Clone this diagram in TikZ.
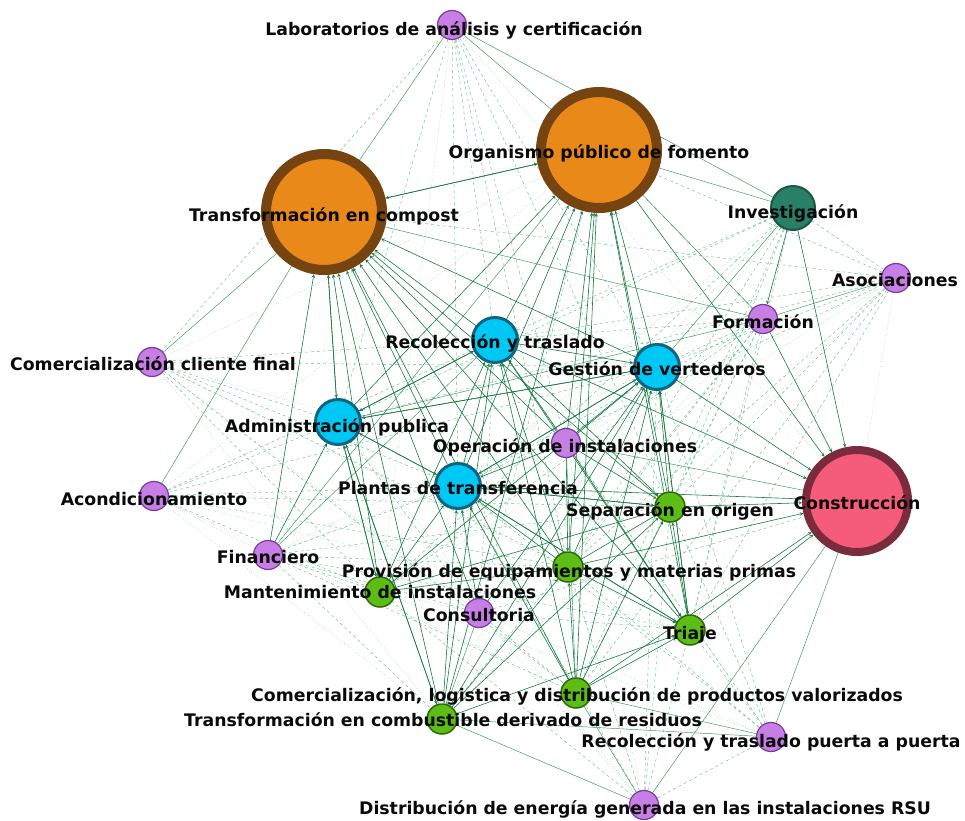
\documentclass[tikz,border=0pt]{standalone}
\usepackage{fontspec}
\setmainfont{DejaVu Sans}
\usetikzlibrary{arrows,backgrounds}
\definecolor{lilaF}{RGB}{199,127,230}
\definecolor{lilaD}{RGB}{120,60,150}
\definecolor{verdeF}{RGB}{92,190,20}
\definecolor{verdeD}{RGB}{45,105,10}
\definecolor{cianF}{RGB}{0,200,245}
\definecolor{cianD}{RGB}{15,100,128}
\definecolor{naranjaF}{RGB}{232,137,26}
\definecolor{naranjaD}{RGB}{118,68,16}
\definecolor{rosaF}{RGB}{245,92,122}
\definecolor{rosaD}{RGB}{122,43,62}
\definecolor{tealF}{RGB}{42,128,102}
\definecolor{tealD}{RGB}{26,86,66}
\definecolor{verdeO}{RGB}{24,122,66}
\definecolor{verdeM}{RGB}{50,150,95}
\definecolor{verdeC}{RGB}{95,185,140}

\tikzset{
    actor/.style={circle, draw, inner sep=0pt},
    lila/.style={actor, fill=lilaF, draw=lilaD, line width=1.2pt, minimum size=29},
    verde/.style={actor, fill=verdeF, draw=verdeD, line width=1.5pt, minimum size=30},
    cian/.style={actor, fill=cianF, draw=cianD, line width=3pt, minimum size=45},
    teal/.style={actor, fill=tealF, draw=tealD, line width=2pt, minimum size=44},
    grande/.style={actor, fill=naranjaF, draw=naranjaD, line width=10pt, minimum size=116},
    rosa/.style={actor, fill=rosaF, draw=rosaD, line width=8pt, minimum size=102},
    txt/.style={font=\fontsize{17.3}{19}\selectfont\bfseries, text=black!96, inner sep=0pt},
    flujo/.style={->, >=stealth, draw=verdeO, line width=0.6pt},
    nexo/.style={draw=verdeM, line width=0.45pt},
    tenue/.style={draw=verdeC, line width=0.4pt, dashed},
    punteado/.style={draw=verdeC, line width=0.4pt, dotted}
}

\begin{document}
\begin{tikzpicture}[x=1pt, y=-1pt]
    \useasboundingbox (0,0) rectangle (965,820);

    \node[lila] (lab) at (452,25) {};
    \node[grande] (org) at (599,150) {};
    \node[grande] (comp) at (324,212) {};
    \node[teal] (inv) at (793,208) {};
    \node[lila] (asoc) at (896,278) {};
    \node[lila] (form) at (763,319) {};
    \node[lila] (comcf) at (152,362) {};
    \node[cian] (recol) at (495,340) {};
    \node[cian] (gest) at (657,367) {};
    \node[cian] (adm) at (338,422) {};
    \node[lila] (oper) at (566,443) {};
    \node[cian] (plant) at (458,486) {};
    \node[rosa] (cons) at (857,501) {};
    \node[lila] (acond) at (154,496) {};
    \node[verde] (sep) at (670,507) {};
    \node[lila] (fin) at (268,555) {};
    \node[verde] (prov) at (568,567) {};
    \node[verde] (mant) at (380,592) {};
    \node[lila] (consu) at (479,613) {};
    \node[verde] (tri) at (690,630) {};
    \node[verde] (comlog) at (576,693) {};
    \node[verde] (cdr) at (442,719) {};
    \node[lila] (pap) at (771,737) {};
    \node[lila] (dist) at (644,805) {};

    \begin{pgfonlayer}{background}
        \fill[white] (0,0) rectangle (965,820);
        \foreach \a/\b in {lab/plant, lab/recol, lab/gest, lab/adm, lab/oper, lab/sep, lab/prov, lab/comcf,
            asoc/org, asoc/inv, asoc/gest, asoc/recol, asoc/adm, asoc/plant, asoc/sep, asoc/prov, asoc/tri, asoc/comlog, asoc/comp,
            form/org, form/gest, form/recol, form/plant, form/sep, form/prov, form/tri, form/comlog, form/cdr, form/mant,
            comcf/adm, comcf/recol, comcf/plant, comcf/gest, comcf/prov, comcf/mant, comcf/comlog,
            acond/adm, acond/plant, acond/recol, acond/gest, acond/prov, acond/mant, acond/sep,
            fin/plant, fin/prov, fin/mant, fin/sep, fin/tri, fin/comlog, fin/cdr, fin/consu,
            pap/sep, pap/tri, pap/prov, pap/plant, pap/gest, pap/recol,
            dist/tri, dist/sep, dist/prov, dist/plant, dist/gest, dist/mant, dist/pap,
            consu/org, consu/recol, consu/adm, consu/tri, consu/comlog, consu/cons,
            inv/recol, inv/adm, inv/sep, inv/prov, inv/tri, inv/comlog, inv/mant}
            \draw[tenue] (\a) -- (\b);
        \foreach \a/\b in {lab/cons, lab/mant, asoc/cons, asoc/mant, asoc/cdr, asoc/oper, form/consu, form/oper,
            comcf/org, comcf/sep, comcf/tri, comcf/cdr, comcf/consu, acond/org, acond/tri, acond/comlog, acond/cdr, acond/fin,
            fin/gest, fin/oper, pap/oper, pap/mant, pap/consu, dist/recol, dist/adm, dist/consu, dist/oper,
            inv/plant, inv/oper, inv/consu, oper/cdr, oper/mant, consu/mant}
            \draw[punteado] (\a) -- (\b);
        \foreach \a/\b in {lab/comp, lab/org, lab/inv, org/inv, org/form, comp/form, comcf/comp, acond/comp,
            fin/recol, fin/org, pap/cons, pap/comlog, pap/cdr, dist/cons, dist/cdr, dist/comlog,
            inv/gest, form/adm, asoc/form, consu/cdr, oper/comlog, oper/cons}
            \draw[nexo] (\a) -- (\b);
        \foreach \a/\b in {org/comp, comp/org, inv/form, inv/cons,
            adm/comp, plant/comp, recol/comp, gest/comp, oper/comp, sep/comp, prov/comp, mant/comp, consu/comp,
            tri/comp, comlog/comp, cdr/comp, fin/comp,
            recol/org, gest/org, oper/org, plant/org, prov/org, sep/org, tri/org, comlog/org, adm/org, cdr/org,
            plant/gest, oper/gest, sep/gest, prov/gest, tri/gest, comlog/gest, cdr/gest, adm/gest, mant/gest,
            consu/gest, recol/gest,
            adm/plant, oper/plant, sep/plant, prov/plant, mant/plant, consu/plant, cdr/plant, comlog/plant,
            tri/plant, gest/plant,
            comp/adm, fin/adm, mant/adm, cdr/adm, plant/adm, recol/adm, gest/adm,
            adm/recol, plant/recol, prov/recol, comlog/recol, cdr/recol, mant/recol, oper/recol,
            sep/cons, prov/cons, tri/cons, comlog/cons, gest/cons, form/cons, recol/cons, plant/cons, org/cons,
            prov/sep, tri/sep, comlog/sep, cdr/sep, mant/sep, prov/tri, comlog/tri, cdr/tri, comlog/prov,
            mant/prov, cdr/prov, plant/sep, plant/tri, gest/tri, oper/sep, oper/prov, oper/tri, recol/sep,
            recol/tri, adm/mant, adm/cdr}
            \draw[flujo] (\a) -- (\b);
    \end{pgfonlayer}

    \node[txt] (lab-t) at (454,30) {Laboratorios de análisis y certificación};
    \node[txt] (org-t) at (599,153) {Organismo público de fomento};
    \node[txt] (comp-t) at (324,216) {Transformación en compost};
    \node[txt] (inv-t) at (793,213) {Investigación};
    \node[txt] (asoc-t) at (895,280) {Asociaciones};
    \node[txt] (form-t) at (763,322) {Formación};
    \node[txt] (comcf-t) at (153,364) {Comercialización cliente final};
    \node[txt] (recol-t) at (495,343) {Recolección y traslado};
    \node[txt] (gest-t) at (657,369) {Gestión de vertederos};
    \node[txt] (adm-t) at (337,427) {Administración publica};
    \node[txt] (oper-t) at (565,447) {Operación de instalaciones};
    \node[txt] (plant-t) at (458,488) {Plantas de transferencia};
    \node[txt] (cons-t) at (857,503) {Construcción};
    \node[txt] (acond-t) at (154,499) {Acondicionamiento};
    \node[txt] (sep-t) at (670,511) {Separación en origen};
    \node[txt] (fin-t) at (268,557) {Financiero};
    \node[txt] (prov-t) at (569,572) {Provisión de equipamientos y materias primas};
    \node[txt] (mant-t) at (380,592) {Mantenimiento de instalaciones};
    \node[txt] (consu-t) at (479,615) {Consultoria};
    \node[txt] (tri-t) at (690,635) {Triaje};
    \node[txt] (comlog-t) at (577,696) {Comercialización, logistica y distribución de productos valorizados};
    \node[txt] (cdr-t) at (443,720) {Transformación en combustible derivado de residuos};
    \node[txt] (pap-t) at (771,742) {Recolección y traslado puerta a puerta};
    \node[txt] (dist-t) at (645,809) {Distribución de energía generada en las instalaciones RSU};
\end{tikzpicture}
\end{document}
